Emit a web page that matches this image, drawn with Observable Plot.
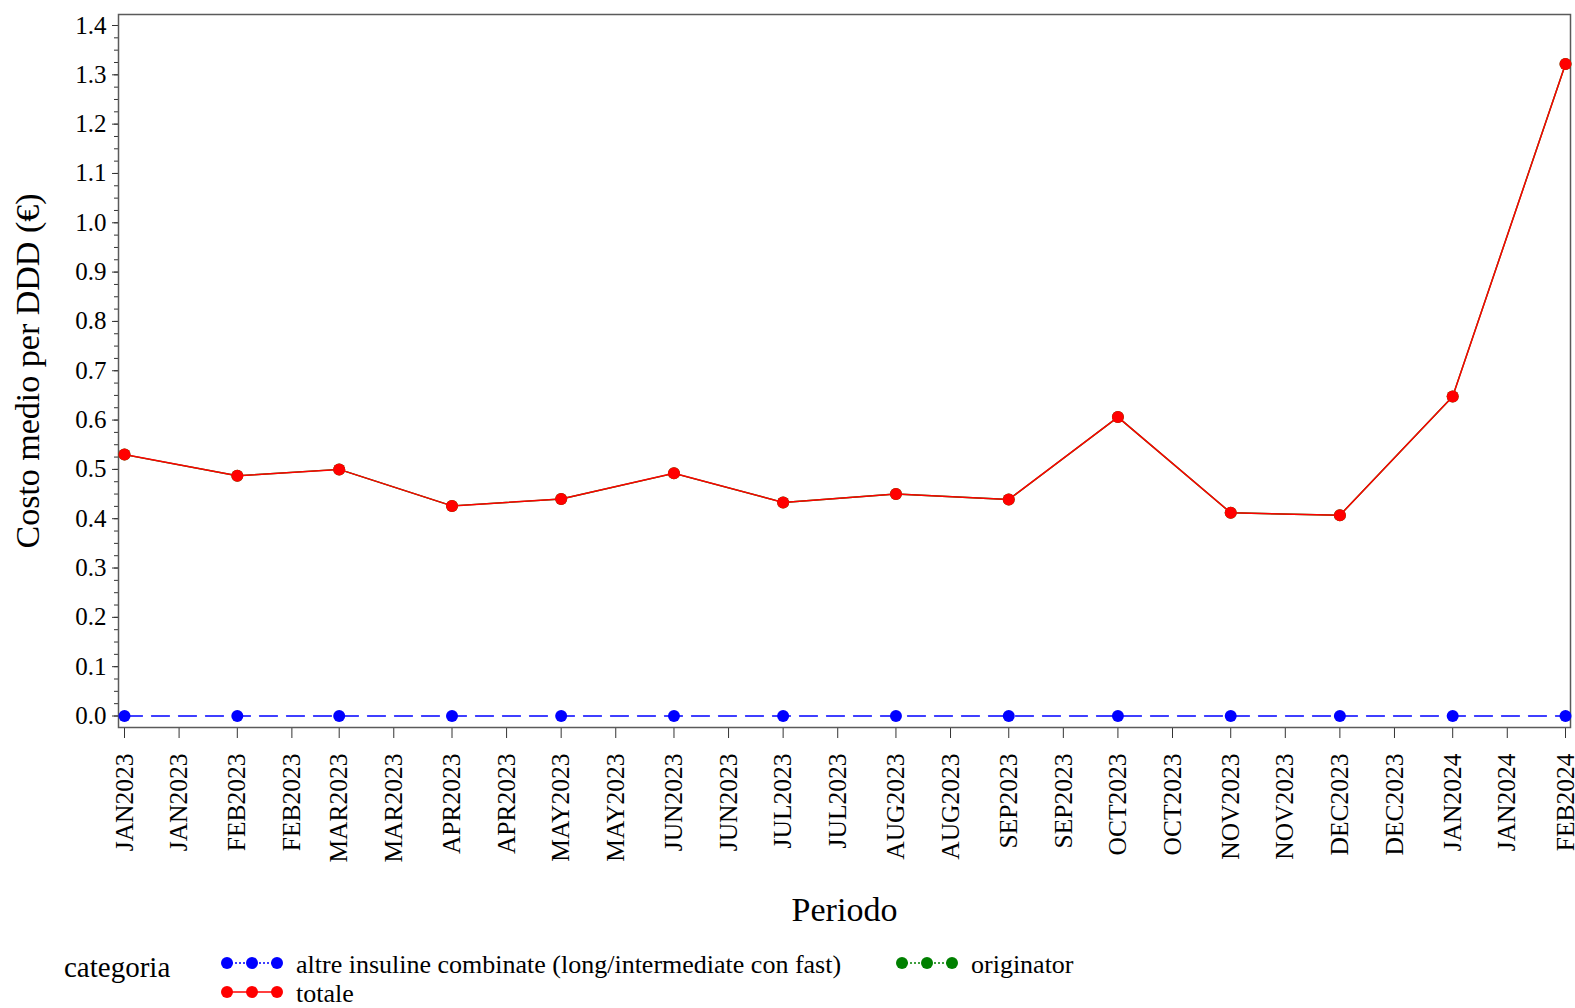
<!DOCTYPE html>
<html><head><meta charset="utf-8">
<script src="https://cdn.jsdelivr.net/npm/d3@7"></script>
<script src="https://cdn.jsdelivr.net/npm/@observablehq/plot@0.6"></script>
<style>body{margin:0;background:#fff;} #chart svg{display:block}</style>
</head><body><div id="chart"></div><script>
const periods = ["2023-01-01","2023-02-01","2023-03-01","2023-04-01","2023-05-01","2023-06-01","2023-07-01","2023-08-01","2023-09-01","2023-10-01","2023-11-01","2023-12-01","2024-01-01","2024-02-01"];
const altre = [0,0,0,0,0,0,0,0,0,0,0,0,0,0];
const originator = [0.530,0.487,0.500,0.426,0.440,0.492,0.433,0.450,0.439,0.606,0.412,0.407,0.648,1.322];
const totale = [0.530,0.487,0.500,0.426,0.440,0.492,0.433,0.450,0.439,0.606,0.412,0.407,0.648,1.322];
const xTicks = ["2023-01-01","2023-01-16","2023-02-01","2023-02-16","2023-03-01","2023-03-16","2023-04-01","2023-04-16","2023-05-01","2023-05-16","2023-06-01","2023-06-16","2023-07-01","2023-07-16","2023-08-01","2023-08-16","2023-09-01","2023-09-16","2023-10-01","2023-10-16","2023-11-01","2023-11-16","2023-12-01","2023-12-16","2024-01-01","2024-01-16","2024-02-01"];
const yTicks = [0,0.1,0.2,0.3,0.4,0.5,0.6,0.7,0.8,0.9,1.0,1.1,1.2,1.3,1.4];
const categories = ["altre insuline combinate (long/intermediate con fast)", "originator", "totale"];
const colors = ["#0000ff", "#008000", "#ff0000"];
const yTitle = "Costo medio per DDD (€)";
const xTitle = "Periodo";
const legendTitle = "categoria";

const series = [altre, originator, totale];
const rows = series.map((vals, k) => periods.map((p, i) => ({date: new Date(p), cat: categories[k], v: vals[i]})));
const yMinor = d3.range(0, 57).map(i => i * 0.025);

const font = "'Liberation Serif','Times New Roman',serif";
const H = 935;
const plot = Plot.plot({
  width: 1575, height: H, marginLeft: 118, marginRight: 5, marginTop: 14, marginBottom: H - 727,
  style: {fontFamily: font, fontSize: "25px", color: "#000", background: "#fff", overflow: "visible"},
  x: {type: "utc", domain: [new Date(periods[0]), new Date(periods[periods.length - 1])], insetLeft: 6, insetRight: 5},
  y: {domain: [0, 1.4], insetTop: 11, insetBottom: 11.5},
  marks: [
    Plot.axisY({ticks: yMinor, tickSize: 4, tickFormat: () => "", label: null, stroke: "#333"}),
    Plot.axisY({ticks: yTicks, tickSize: 6, tickPadding: 6, tickFormat: d3.format(".1f"), label: null, fontSize: 25, stroke: "#333"}),
    Plot.axisX({ticks: xTicks.map(d => new Date(d)), tickSize: 11, tickPadding: 15, tickRotate: -90,
      tickFormat: d => d3.utcFormat("%b%Y")(d).toUpperCase(), label: null, fontSize: 25.5, stroke: "#333"}),
    Plot.frame({stroke: "#5a5a5a", strokeWidth: 1.5}),
    Plot.line(rows[0], {x: "date", y: "v", stroke: colors[0], strokeWidth: 1.3, strokeDasharray: "18,9"}),
    Plot.dot(rows[0], {x: "date", y: "v", fill: colors[0], r: 6}),
    Plot.line(rows[1], {x: "date", y: "v", stroke: colors[1], strokeWidth: 1.4}),
    Plot.dot(rows[1], {x: "date", y: "v", fill: colors[1], r: 6}),
    Plot.line(rows[2], {x: "date", y: "v", stroke: colors[2], strokeWidth: 1.5}),
    Plot.dot(rows[2], {x: "date", y: "v", fill: colors[2], r: 6}),
    Plot.text([yTitle], {frameAnchor: "left", textAnchor: "middle", rotate: -90, dx: -80, lineAnchor: "bottom", fontSize: 34}),
    Plot.text([xTitle], {frameAnchor: "bottom", textAnchor: "middle", dy: 193, lineAnchor: "bottom", fontSize: 34})
  ]
});
document.getElementById("chart").appendChild(plot);

// legend below
const lg = d3.select("#chart").append("svg").attr("width", 1575).attr("height", 1008 - H)
  .style("display", "block").style("font-family", font);
lg.append("text").attr("x", 64).attr("y", 42).attr("font-size", 29).text(legendTitle);
const items = [
  {cat: 0, x: 227, y: 28, dash: "2,2"},
  {cat: 1, x: 902, y: 28, dash: "2,2"},
  {cat: 2, x: 227, y: 57, dash: null}
];
for (const it of items) {
  const g = lg.append("g");
  g.append("line").attr("x1", it.x).attr("x2", it.x + 50).attr("y1", it.y).attr("y2", it.y)
    .attr("stroke", colors[it.cat]).attr("stroke-width", 1.5).attr("stroke-dasharray", it.dash);
  for (const dx of [0, 25, 50]) g.append("circle").attr("cx", it.x + dx).attr("cy", it.y).attr("r", 6).attr("fill", colors[it.cat]);
  g.append("text").attr("x", it.x + 69).attr("y", it.y + 10).attr("font-size", 26).text(categories[it.cat]);
}
</script></body></html>
